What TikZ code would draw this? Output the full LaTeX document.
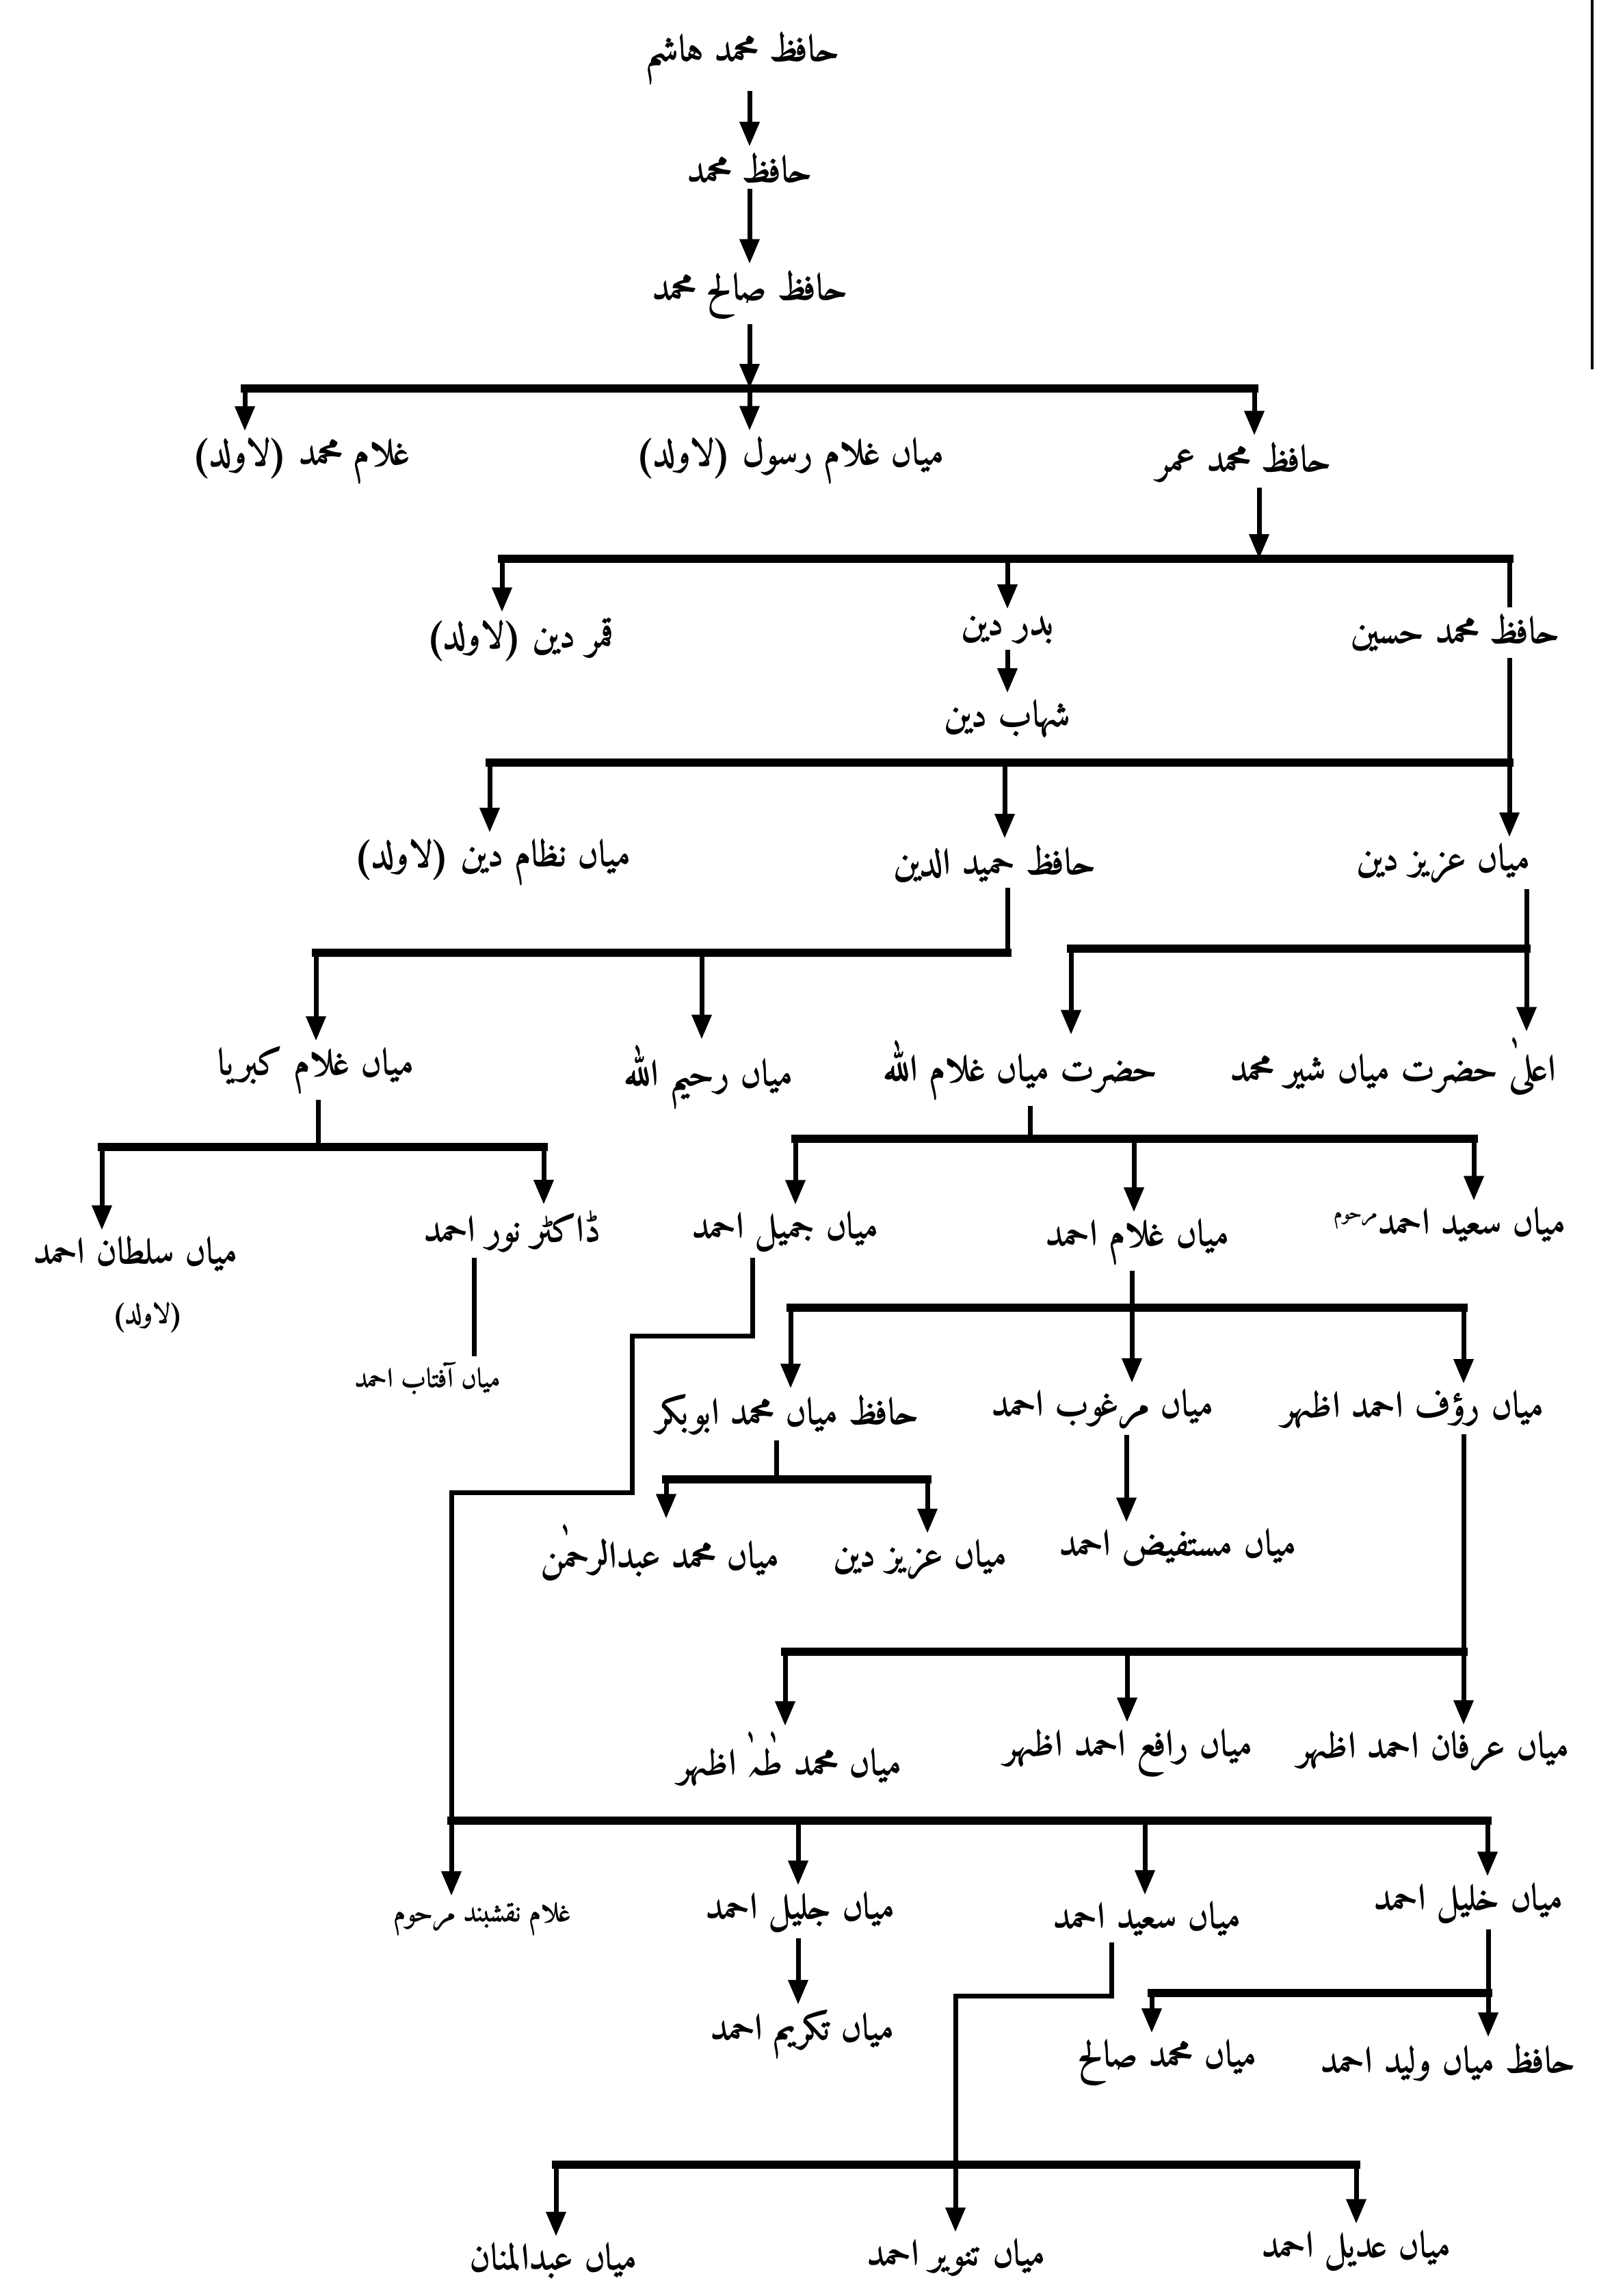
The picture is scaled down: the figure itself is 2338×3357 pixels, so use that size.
\documentclass[tikz,border=0pt]{standalone}
\usepackage{fontspec}
\newfontfamily\urdu[Script=Arabic]{Amiri-Bold.ttf}
\TeXXeTstate=1
\usetikzlibrary{arrows.meta}
\newcommand{\nam}[1]{\urdu\beginR #1\endR}
\tikzset{
  nm/.style={font=\fontsize{27}{31}\selectfont, inner sep=0pt, outer ysep=4pt},
  sm/.style={font=\fontsize{20}{24}\selectfont, inner sep=0pt, outer ysep=4pt},
  link/.style={line width=3.5pt},
  bar/.style={line width=6pt, line cap=rect},
  arr/.style={line width=3.5pt, -{Triangle[length=18pt,width=14pt]}},
}
\begin{document}
\begin{tikzpicture}[x=0.5pt,y=-0.5pt]
\useasboundingbox (0,0) rectangle (2338,3357);

% names
\node[nm] (hashim) at (1085,85) {\nam{حافظ محمد ہاشم}};
\node[nm] (hafiz) at (1096,245) {\nam{حافظ محمد}};
\node[nm] (salih) at (1096,430) {\nam{حافظ صالح محمد}};

\node[nm] (ghmuh) at (440,673) {\nam{غلام محمد (لاولد)}};
\node[nm] (rasul) at (1155,673) {\nam{میاں غلام رسول (لاولد)}};
\node[nm] (umar) at (1819,675) {\nam{حافظ محمد عمر}};

\node[nm] (qamar) at (760,935) {\nam{قمر دین (لاولد)}};
\node[nm] (badr) at (1473,920) {\nam{بدر دین}};
\node[nm] (husain) at (2128,925) {\nam{حافظ محمد حسین}};
\node[nm] (shahab) at (1473,1050) {\nam{شہاب دین}};

\node[nm] (nizam) at (720,1260) {\nam{میاں نظام دین (لاولد)}};
\node[nm] (hamid) at (1454,1262) {\nam{حافظ حمید الدین}};
\node[nm] (aziz) at (2110,1262) {\nam{میاں عزیز دین}};

\node[nm] (kibriya) at (462,1565) {\nam{میاں غلام کبریا}};
\node[nm] (rahim) at (1036,1575) {\nam{میاں رحیم اللہ}};
\node[nm] (ghallah) at (1492,1565) {\nam{حضرت میاں غلام اللہ}};
\node[nm] (sher) at (2037,1560) {\nam{اعلیٰ حضرت میاں شیر محمد}};

\node[nm] (sultan) at (198,1833) {\nam{میاں سلطان احمد}};
\node[sm] (la) at (216,1926) {\nam{(لاولد)}};
\node[nm] (noor) at (749,1800) {\nam{ڈاکٹر نور احمد}};
\node[sm] (aftab) at (625,2015) {\nam{میاں آفتاب احمد}};
\node[nm] (jamil) at (1148,1800) {\nam{میاں جمیل احمد}};
\node[nm] (ghahmad) at (1663,1815) {\nam{میاں غلام احمد}};
\node[nm] (saeedm) at (2120,1790) {\nam{میاں سعید احمد\raisebox{11pt}{\fontsize{14}{16}\selectfont\beginR مرحوم\endR}}};

\node[nm] (abubakr) at (1152,2068) {\nam{حافظ میاں محمد ابوبکر}};
\node[nm] (marghoob) at (1612,2060) {\nam{میاں مرغوب احمد}};
\node[nm] (rauf) at (2066,2060) {\nam{میاں رؤف احمد اظہر}};

\node[nm] (rahman) at (965,2270) {\nam{میاں محمد عبدالرحمٰن}};
\node[nm] (aziz2) at (1345,2280) {\nam{میاں عزیز دین}};
\node[nm] (mustafeez) at (1722,2262) {\nam{میاں مستفیض احمد}};

\node[nm] (taha) at (1155,2572) {\nam{میاں محمد طٰہٰ اظہر}};
\node[nm] (rafi) at (1650,2562) {\nam{میاں رافع احمد اظہر}};
\node[nm] (irfan) at (2096,2560) {\nam{میاں عرفان احمد اظہر}};

\node[sm] (naqsh) at (705,2805) {\nam{غلام نقشبند مرحوم}};
\node[nm] (jaleel) at (1170,2795) {\nam{میاں جلیل احمد}};
\node[nm] (saeed2) at (1677,2805) {\nam{میاں سعید احمد}};
\node[nm] (khaleel) at (2147,2782) {\nam{میاں خلیل احمد}};
\node[nm] (takreem) at (1173,2975) {\nam{میاں تکریم احمد}};

\node[nm] (saleh) at (1707,3015) {\nam{میاں محمد صالح}};
\node[nm] (waleed) at (2117,3015) {\nam{حافظ میاں ولید احمد}};

\node[nm] (mannan) at (809,3305) {\nam{میاں عبدالمنان}};
\node[nm] (tanveer) at (1398,3300) {\nam{میاں تنویر احمد}};
\node[nm] (adeel) at (1983,3290) {\nam{میاں عدیل احمد}};

% junctions
\coordinate (b0l) at (358,568);  \coordinate (b0r) at (1834,568);
\coordinate (b1l) at (734,817);  \coordinate (b1m) at (1841,817); \coordinate (b1r) at (2207,817);
\coordinate (b2l) at (716,1115); \coordinate (b2m) at (1469,1115); \coordinate (b2r) at (2207,1115);
\coordinate (b3l) at (462,1393); \coordinate (b3m) at (1026,1393); \coordinate (b3r) at (1473,1393);
\coordinate (c3l) at (1566,1387); \coordinate (c3r) at (2232,1387);
\coordinate (b4l) at (149,1677); \coordinate (b4m) at (465,1677); \coordinate (b4r) at (795,1677);
\coordinate (c4l) at (1163,1665); \coordinate (c4s) at (1506,1665); \coordinate (c4m) at (1658,1665); \coordinate (c4r) at (2155,1665);
\coordinate (nx) at (693,1900);
\coordinate (k1) at (1100,1953); \coordinate (k2) at (924,2182);
\coordinate (b5l) at (1156,1912); \coordinate (b5m) at (1655,1912); \coordinate (b5r) at (2140,1912);
\coordinate (b6l) at (974,2163); \coordinate (b6s) at (1135,2163); \coordinate (b6r) at (1356,2163);
\coordinate (m6) at (1647,2160);
\coordinate (c6l) at (1148,2415); \coordinate (c6m) at (1648,2415); \coordinate (c6r) at (2140,2415);
\coordinate (b7l) at (660,2662); \coordinate (b7a) at (1167,2662); \coordinate (b7b) at (1674,2662); \coordinate (b7r) at (2175,2662);
\coordinate (s1) at (1625,2918);
\coordinate (c9l) at (1684,2914); \coordinate (c9r) at (2176,2914);
\coordinate (b10l) at (813,3165); \coordinate (b10m) at (1397,3165); \coordinate (b10r) at (1983,3165);

% first generations
\draw[arr] (hashim.south -| hafiz) -- (hafiz.north);
\draw[arr] (hafiz.south) -- (salih.north);
\draw[arr] (salih.south) -- (salih.south |- b0l);
\draw[bar] (b0l) -- (b0r);
\draw[arr] (b0l) -- (b0l |- ghmuh.north);
\draw[arr] (salih |- b0l) -- (salih |- rasul.north);
\draw[arr] (b0r) -- (b0r |- umar.north);

% Hafiz Muhammad Umar
\draw[arr] (umar.south -| b1m) -- (b1m);
\draw[bar] (b1l) -- (b1r);
\draw[arr] (b1l) -- (b1l |- qamar.north);
\draw[arr] (badr |- b1l) -- (badr.north);
\draw[link] (b1r) -- (b1r |- husain.north);
\draw[arr] (badr.south) -- (shahab.north);

% Hafiz Muhammad Husain
\draw[arr] (husain.south -| b2r) -- (b2r |- aziz.north);
\draw[bar] (b2l) -- (b2r);
\draw[arr] (b2l) -- (b2l |- nizam.north);
\draw[arr] (b2m) -- (b2m |- hamid.north);

% Hafiz Hamid ud Din
\draw[link] (hamid.south -| b3r) -- (b3r);
\draw[bar] (b3l) -- (b3r);
\draw[arr] (b3l) -- (b3l |- kibriya.north);
\draw[arr] (b3m) -- (b3m |- rahim.north);

% Mian Aziz Din
\draw[arr] (aziz.south -| c3r) -- (c3r |- sher.north);
\draw[bar] (c3l) -- (c3r);
\draw[arr] (c3l) -- (c3l |- ghallah.north);

% Mian Ghulam Kibriya
\draw[link] (kibriya.south -| b4m) -- (b4m);
\draw[bar] (b4l) -- (b4r);
\draw[arr] (b4l) -- (b4l |- sultan.north);
\draw[arr] (b4r) -- (b4r |- noor.north);
\draw[link] (noor.south -| nx) -- (aftab.north -| nx);

% Hazrat Mian Ghulam Allah
\draw[link] (ghallah.south -| c4s) -- (c4s);
\draw[bar] (c4l) -- (c4r);
\draw[arr] (c4l) -- (c4l |- jamil.north);
\draw[arr] (c4m) -- (c4m |- ghahmad.north);
\draw[arr] (c4r) -- (c4r |- saeedm.north);

% Mian Ghulam Ahmad
\draw[arr] (ghahmad.south -| b5m) -- (b5m |- marghoob.north);
\draw[bar] (b5l) -- (b5r);
\draw[arr] (b5l) -- (b5l |- abubakr.north);
\draw[arr] (b5r) -- (b5r |- rauf.north);

\draw[link] (abubakr.south -| b6s) -- (b6s);
\draw[bar] (b6l) -- (b6r);
\draw[arr] (b6l) -- (b6l |- rahman.north);
\draw[arr] (b6r) -- (b6r |- aziz2.north);
\draw[arr] (marghoob.south -| m6) -- (mustafeez.north -| m6);

\draw[arr] (rauf.south -| c6r) -- (c6r |- irfan.north);
\draw[bar] (c6l) -- (c6r);
\draw[arr] (c6l) -- (c6l |- taha.north);
\draw[arr] (c6m) -- (c6m |- rafi.north);

% Mian Jamil Ahmad
\draw[arr] (jamil.south -| k1) -- (k1) -| (k2) -| (naqsh.north -| b7l);
\draw[bar] (b7l) -- (b7r);
\draw[arr] (b7a) -- (b7a |- jaleel.north);
\draw[arr] (b7b) -- (b7b |- saeed2.north);
\draw[arr] (b7r) -- (b7r |- khaleel.north);
\draw[arr] (jaleel.south -| b7a) -- (takreem.north -| b7a);

\draw[arr] (khaleel.south -| c9r) -- (c9r |- waleed.north);
\draw[bar] (c9l) -- (c9r);
\draw[arr] (c9l) -- (c9l |- saleh.north);

\draw[link] (saeed2.south -| s1) -- (s1) -| (b10m |- b10l) -- (b10l);
\draw[bar] (b10l) -- (b10r);
\draw[arr] (b10l) -- (b10l |- mannan.north);
\draw[arr] (b10m) -- (b10m |- tanveer.north);
\draw[arr] (b10r) -- (b10r |- adeel.north);

\draw[line width=2pt] (2328,0) -- (2328,540);
\end{tikzpicture}
\end{document}
